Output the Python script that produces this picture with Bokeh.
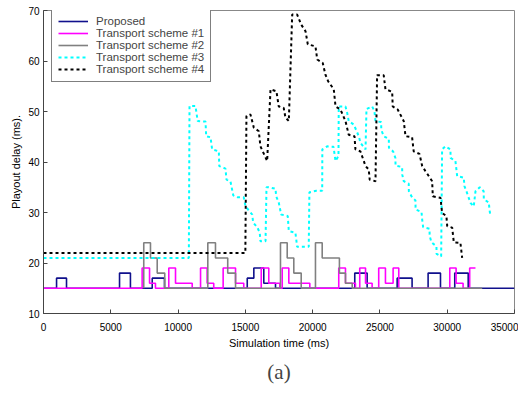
from bokeh.plotting import figure
from bokeh.models import Range1d, FixedTicker, Legend, LegendItem, Title
from bokeh.embed import file_html
from bokeh.resources import INLINE

# ---- data ----
x_ticks = [0, 5000, 10000, 15000, 20000, 25000, 30000, 35000]
y_ticks = [10, 20, 30, 40, 50, 60, 70]

proposed_x = [0, 970, 1710, 5650, 6460, 8080, 8990, 15140, 15630, 16370, 17240,
              23130, 24050, 26280, 27390, 28580, 29500, 30560, 31560, 35000]
proposed_y = [15, 17, 15, 18, 15, 17, 15, 17, 19, 16, 15,
              18, 15, 17, 15, 18, 15, 18, 15, 15]

scheme1_x = [0, 7330, 7880, 8320, 9310, 9810, 11050, 11670, 12160, 12650, 13350, 14270,
             14880, 16180, 16740, 17560, 17740, 18230, 19790, 21940, 22440, 23180, 23500,
             23930, 24420, 24910, 25410, 25980, 26400, 30190, 30660, 31180, 31670, 32100]
scheme1_y = [15, 19, 16, 15, 19, 16, 15, 19, 16, 15, 19, 16,
             15, 19, 16, 15, 19, 16, 15, 19, 16, 15, 19,
             16, 15, 19, 16, 19, 15, 19, 16, 15, 19, 19]

scheme2_x = [7450, 7450, 7950, 8450, 9010, 12210, 12780, 13690, 14270, 17610, 18110,
             18600, 19150, 20210, 20710, 21990, 22440, 22940, 32600]
scheme2_y = [15, 24, 21, 18, 15, 24, 21, 18, 15, 24, 21,
             18, 15, 24, 21, 18, 16, 15, 15]

scheme3_x = [0, 10800, 10850, 11290, 11460, 12040, 12090, 12410, 12530, 13030, 13060, 13520,
             13600, 13890, 14100, 14440, 14880, 15010, 15510, 15580, 15880, 16070, 16120,
             16500, 16570, 16740, 17240, 17290, 17480, 17660, 18150, 18230, 18720, 18850,
             19710, 19760, 20280, 20710, 20720, 21080, 21550, 21700, 21920, 21940, 22440,
             22570, 22680, 23060, 23430, 23550, 23930, 24000, 24420, 24590, 24670, 25090,
             25100, 25280, 25660, 25670, 25980, 26150, 26160, 26650, 26660, 26770, 27140,
             27150, 27390, 27640, 27650, 28090, 28140, 28210, 28680, 28700, 28830, 29200,
             29210, 29550, 29620, 29870, 30240, 30250, 30610, 30740, 31230, 31280, 31430,
             31730, 31970, 32100, 32420, 32710, 32720, 33090, 33140, 33210]
scheme3_y = [21, 21, 51.1, 51.1, 48.1, 48.0, 45.1, 44.9, 42.5, 42.1, 39.2, 38.7,
             36.5, 36.2, 33.4, 33.0, 33.0, 31.2, 29.6, 28.0, 27.1, 26.0, 24.3,
             24.3, 35.0, 35.0, 34.7, 33.2, 32.0, 29.6, 29.3, 26.3, 26.0, 23.2,
             23.2, 34.0, 34.3, 34.3, 42.5, 43.1, 43.0, 40.2, 41.2, 51.0, 51.0,
             49.7, 48.1, 47.4, 45.1, 43.8, 42.5, 50.5, 51.0, 50.1, 48.1, 47.9,
             46.4, 45.1, 44.6, 42.8, 42.1, 40.8, 39.3, 39.0, 37.5, 36.2, 35.7,
             34.2, 33.0, 32.4, 30.6, 30.1, 28.6, 27.1, 26.8, 25.3, 24.1, 23.3,
             21.8, 21.3, 42.5, 43.1, 42.5, 40.8, 40.2, 37.2, 36.9, 35.2, 34.2,
             31.9, 31.2, 34.2, 35.0, 34.2, 32.6, 32.0, 30.6, 29.3]

scheme4_x = [0, 15000, 15080, 15380, 15630, 16000, 16120, 16620, 16870, 17310, 17480, 17850,
             17980, 18230, 18480, 18850, 19150, 19470, 19640, 20210, 20340, 20750, 20950,
             21150, 21570, 21700, 22070, 22440, 22680, 23110, 23180, 23550, 23930, 24170,
             24240, 24670, 24790, 25280, 25410, 25910, 25950, 26320, 26770, 26900, 27390,
             27510, 27940, 28140, 28380, 28880, 28930, 29500, 29620, 29940, 30000, 30370,
             30490, 30980, 31110]
scheme4_y = [22, 22, 49.1, 49.4, 46.8, 46.1, 43.1, 40.2, 54.4, 54.0, 51.0, 50.7,
             48.8, 48.1, 69.2, 69.2, 67.2, 65.9, 63.3, 62.9, 60.3, 59.6, 57.3,
             56.0, 54.4, 51.0, 50.4, 48.1, 45.4, 45.1, 42.5, 42.1, 39.2, 38.5,
             36.5, 36.2, 57.2, 57.2, 54.4, 53.9, 51.0, 50.4, 48.1, 45.1, 44.9,
             42.1, 41.6, 39.2, 38.2, 36.2, 33.2, 32.9, 29.9, 29.3, 27.3, 27.0,
             24.1, 24.0, 21.0]

labels = ["Proposed", "Transport scheme #1", "Transport scheme #2",
          "Transport scheme #3", "Transport scheme #4"]

FONT = "Liberation Sans"

p = figure(frame_width=471, frame_height=303, output_backend="svg", toolbar_location=None,
           x_range=Range1d(0, 35000), y_range=Range1d(10, 70),
           min_border_left=43, min_border_right=4, min_border_top=10, min_border_bottom=4)
p.grid.visible = False
p.outline_line_color = "#888888"
p.background_fill_color = "white"
p.border_fill_color = "white"

r0 = p.step(proposed_x, proposed_y, mode="after", line_color="#10108c", line_width=1.6)
r1 = p.step(scheme1_x, scheme1_y, mode="after", line_color="#ff00ff", line_width=1.6)
r2 = p.step(scheme2_x, scheme2_y, mode="after", line_color="#808080", line_width=1.6)
r3 = p.line(scheme3_x, scheme3_y, line_color="#00ffff", line_width=2, line_dash="3 3")
r4 = p.line(scheme4_x, scheme4_y, line_color="black", line_width=2, line_dash="3 3")

for ax in (p.xaxis[0], p.yaxis[0]):
    ax.major_tick_in = 4
    ax.major_tick_out = 0
    ax.minor_tick_line_color = None
    ax.axis_line_color = "#444444"
    ax.major_tick_line_color = "#444444"
    ax.major_label_text_font = FONT
    ax.major_label_text_font_size = "10px"
    ax.major_label_text_color = "black"
    ax.axis_label_text_font = FONT
    ax.axis_label_text_font_size = "11px"
    ax.axis_label_text_font_style = "normal"
    ax.axis_label_text_color = "black"

p.xaxis.ticker = FixedTicker(ticks=x_ticks)
p.xaxis.major_label_overrides = {t: str(t) for t in x_ticks}
p.yaxis.ticker = FixedTicker(ticks=y_ticks)
p.xaxis.axis_label = "Simulation time (ms)"
p.yaxis.axis_label = "Playout delay (ms)."
p.xaxis.major_label_standoff = 9
p.xaxis.axis_label_standoff = 3
p.yaxis.major_label_standoff = 4
p.yaxis.axis_label_standoff = 3

legend = Legend(items=[LegendItem(label=l, renderers=[r]) for l, r in
                       zip(labels, [r0, r1, r2, r3, r4])],
                location=(8, 231))
legend.border_line_color = "black"
legend.border_line_width = 1
legend.label_text_font = FONT
legend.label_text_font_size = "11.5px"
legend.glyph_width = 30
legend.glyph_height = 10
legend.label_height = 10
legend.spacing = 0
legend.padding = 6
legend.label_standoff = 8
legend.background_fill_alpha = 1
p.add_layout(legend)

p.add_layout(Title(text="(a)", align="center", text_font="Liberation Serif",
                   text_font_size="21px", text_font_style="normal", standoff=12), "below")

open("out.html", "w").write(file_html(p, INLINE))
